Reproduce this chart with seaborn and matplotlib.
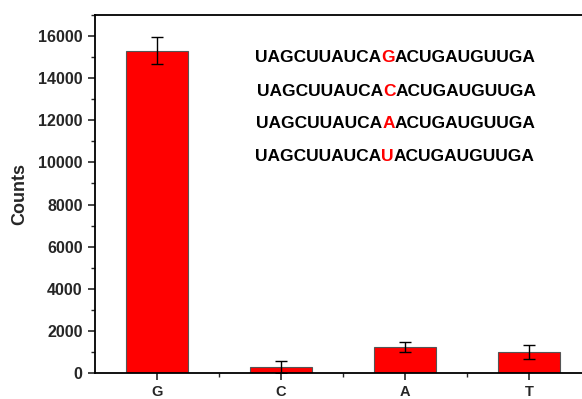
import pandas as pd
import seaborn as sns
import matplotlib.pyplot as plt
from matplotlib.ticker import MultipleLocator, FixedLocator

bases = ['G', 'C', 'A', 'T']
counts = [15300, 290, 1230, 1010]
errors = [650, 280, 250, 340]

seq_prefix = 'UAGCUUAUCA'
seq_suffix = 'ACUGAUGUUGA'
variants = ['G', 'C', 'A', 'U']

sns.set_theme(style='ticks')
plt.rcParams['font.family'] = ['Liberation Sans', 'DejaVu Sans']
plt.rcParams['font.weight'] = 'bold'

df = pd.DataFrame({'base': bases, 'count': counts})

fig = plt.figure(figsize=(5.82, 3.99), dpi=100)
# axes run past the right edge like the cropped original
ax = fig.add_axes([95 / 582, 1 - 373 / 399, 496 / 582, 358 / 399])

sns.barplot(data=df, x='base', y='count', color='#ff0000', saturation=1,
            edgecolor='#555555', linewidth=0.8, width=0.5, ax=ax)
ax.errorbar(range(len(bases)), counts, yerr=errors, fmt='none',
            ecolor='black', elinewidth=1.0, capsize=4, capthick=1.0)

ax.set_xlim(-0.5, 3.5)
ax.set_ylim(0, 17000)
ax.yaxis.set_major_locator(MultipleLocator(2000))
ax.yaxis.set_minor_locator(MultipleLocator(1000))
ax.xaxis.set_minor_locator(FixedLocator([0.5, 1.5, 2.5]))
ax.tick_params(which='major', length=5, width=1.2, labelsize=11.5, direction='out', pad=4)
ax.tick_params(axis='x', which='major', labelsize=10.5, pad=4)
ax.tick_params(which='minor', length=3, width=1.0, direction='out')
for lab in ax.get_xticklabels() + ax.get_yticklabels():
    lab.set_fontweight('bold')
ax.set_xlabel('')
ax.set_ylabel('Counts', fontsize=13, fontweight='bold', labelpad=7)
for s in ax.spines.values():
    s.set_linewidth(1.3)
    s.set_color('black')

# sequences with the varied position in red
fig.canvas.draw()
renderer = fig.canvas.get_renderer()
starts = [255, 257, 256, 255]
centers = [57, 91, 124, 157]
for v, x0, yc in zip(variants, starts, centers):
    x = x0
    for part, col in [(seq_prefix, 'black'), (v, '#ff0000'), (seq_suffix, 'black')]:
        t = fig.text(x / 582, 1 - yc / 399, part, color=col, fontsize=12.5,
                     fontweight='bold', ha='left', va='center')
        x += t.get_window_extent(renderer).width

fig.savefig('out.png', dpi=100)
